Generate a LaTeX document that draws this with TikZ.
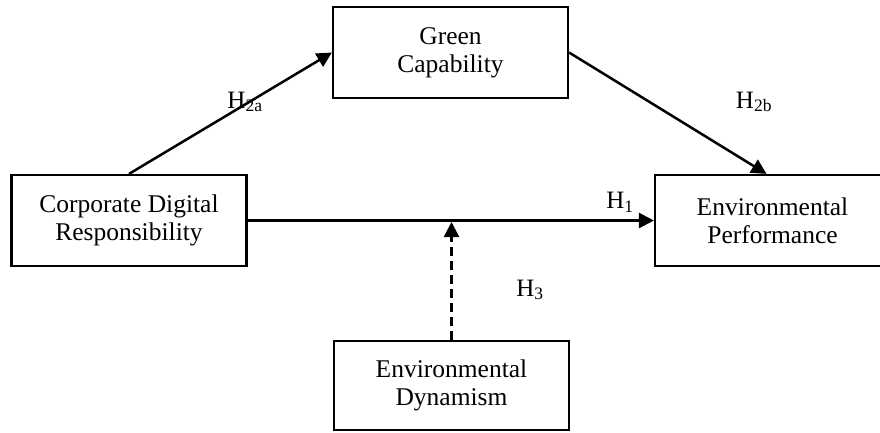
\documentclass[tikz,border=0pt]{standalone}
\usepackage{fontspec}
\setmainfont{Liberation Serif}
\usetikzlibrary{arrows.meta,calc}

\begin{document}
\begin{tikzpicture}[x=1pt,y=-1pt,line cap=butt,line join=miter,
  varbox/.style={draw,line width=2.2pt,minimum width=235pt,minimum height=91pt,
    align=center,inner sep=0pt,font=\fontsize{25.5}{28}\selectfont},
  hyplabel/.style={font=\fontsize{25}{28}\selectfont,inner sep=0pt},
  patharrow/.style={line width=2.5pt,-{Triangle[length=15pt,width=15pt]}}]
  \useasboundingbox (0,0) rectangle (880,432);
  % variables
  \node[varbox] (gc)  at (450.5,52.5)  {Green\\Capability};
  \node[varbox] (cdr) at (129,220.5)   {Corporate Digital\\Responsibility};
  \node[varbox] (ep)  at (772.5,220.5) {Environmental\\Performance};
  \node[varbox,minimum height=89pt] (ed) at (451.5,385.5) {Environmental\\Dynamism};
  % paths
  \draw[patharrow] (cdr.north) -- (gc.west);
  \draw[patharrow] (gc.east) -- ($(ep.north)+(-6,0)$);
  \draw[patharrow] (cdr.east) -- (ep.west);
  \coordinate (mod) at ($(ed.north |- cdr.east)+(0,1.5)$);
  \draw[patharrow,dashed,dash pattern=on 9pt off 5pt] (ed.north) -- (mod);
  % hypotheses
  \node[hyplabel] (h2a) at (245,102) {H\textsubscript{2a}};
  \node[hyplabel] (h2b) at (754,102) {H\textsubscript{2b}};
  \node[hyplabel] (h1)  at (620,202) {H\textsubscript{1}};
  \node[hyplabel] (h3)  at (530,290) {H\textsubscript{3}};
\end{tikzpicture}
\end{document}
